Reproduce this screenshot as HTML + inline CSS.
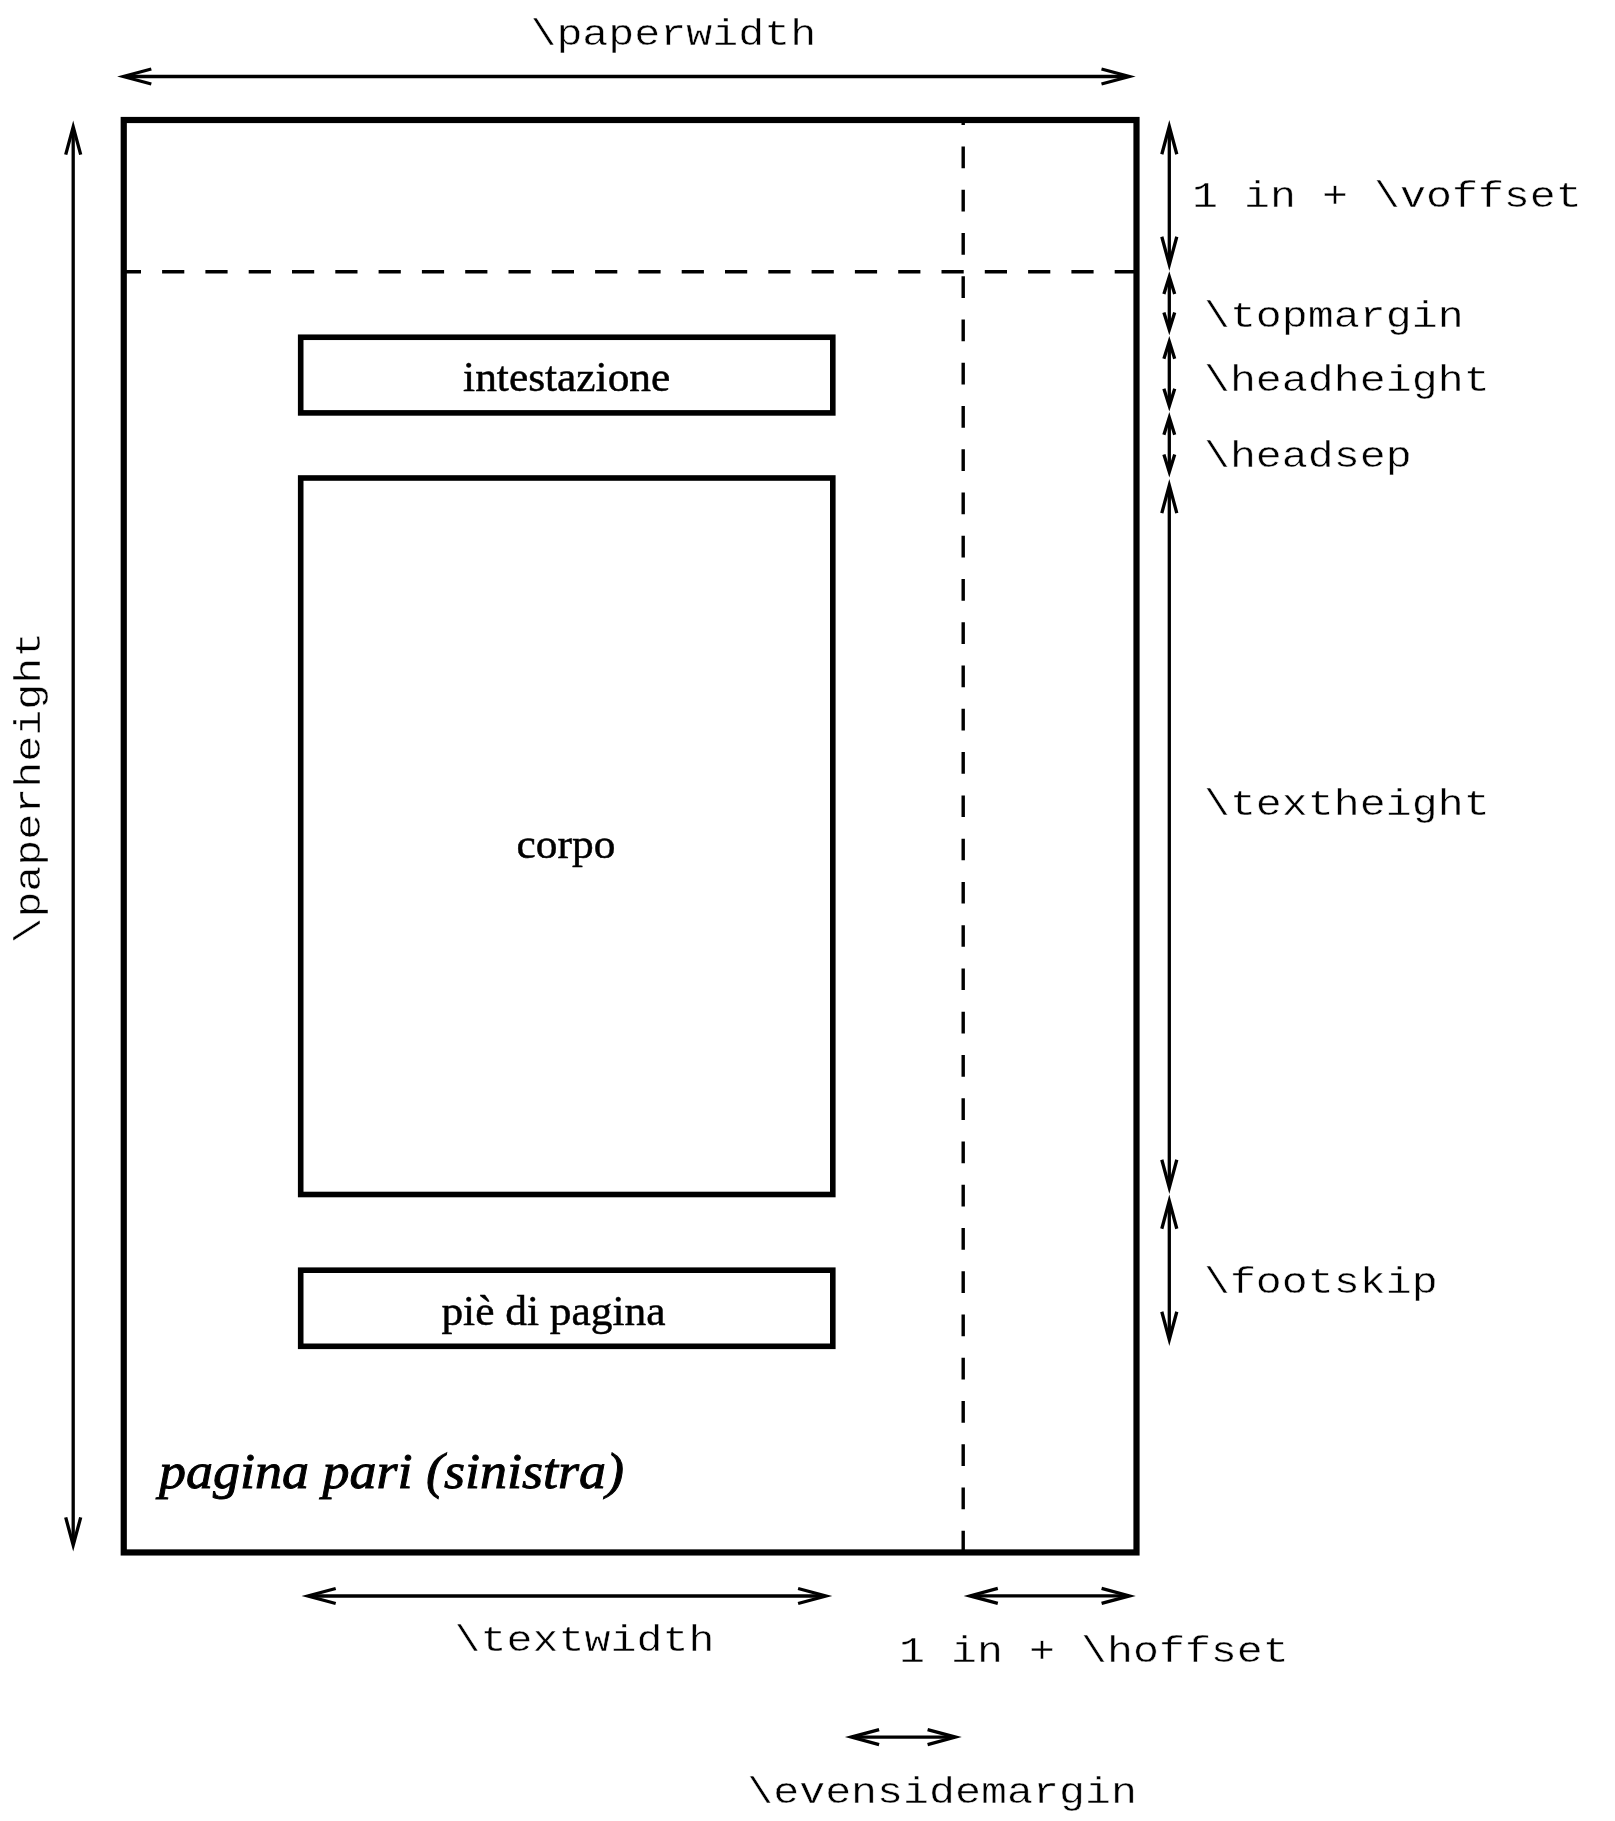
<!DOCTYPE html>
<html><head><meta charset="utf-8"><style>
html,body{margin:0;padding:0;background:#fff;width:1615px;height:1821px;overflow:hidden}
svg{display:block;will-change:transform}
.m{font-family:"Liberation Mono",monospace;font-size:43.3px;fill:#000;stroke:#fff;stroke-width:0.5px}
.s{font-family:"Liberation Serif",serif;font-size:43.4px;fill:#000;stroke:#000;stroke-width:0.5px}
.i{font-family:"Liberation Serif",serif;font-style:italic;font-size:54px;fill:#000;stroke:#000;stroke-width:1px}
</style></head><body>
<svg width="1615" height="1821" viewBox="0 0 1615 1821">
<rect width="1615" height="1821" fill="#fff"/>
<g fill="none" stroke="#000">
<rect x="123.75" y="120" width="1012.75" height="1432.45" stroke-width="6.2"/>
<rect x="300.7" y="337.25" width="532.1" height="75.65" stroke-width="5.6"/>
<rect x="300.7" y="478" width="532.1" height="716.5" stroke-width="5.6"/>
<rect x="300.7" y="1270.2" width="532.1" height="76.1" stroke-width="5.6"/>
<line x1="123.75" y1="271.8" x2="1136.5" y2="271.8" stroke-width="3.4" stroke-dasharray="22.2 21.1" stroke-dashoffset="4.95"/>
<line x1="963.2" y1="1552.5" x2="963.2" y2="120" stroke-width="3.4" stroke-dasharray="21.7 21.56"/>
</g>
<g fill="none" stroke="#000" stroke-width="3.3" stroke-linejoin="miter" stroke-miterlimit="20">
<line x1="127.1" y1="76.5" x2="1125.7" y2="76.5"/><polyline points="151.30,84.00 123.45,76.50 151.30,69.00"/><polyline points="1101.50,69.00 1129.35,76.50 1101.50,84.00"/><line x1="73.2" y1="130.4" x2="73.2" y2="1541.6"/><polyline points="65.70,154.60 73.20,126.75 80.70,154.60"/><polyline points="80.70,1517.40 73.20,1545.25 65.70,1517.40"/><line x1="1169.3" y1="130.1" x2="1169.3" y2="260.9"/><polyline points="1161.80,154.30 1169.30,126.45 1176.80,154.30"/><polyline points="1176.80,236.70 1169.30,264.55 1161.80,236.70"/><line x1="1169.3" y1="281.15" x2="1169.3" y2="325.3"/><polyline points="1163.90,293.95 1169.30,276.68 1174.70,293.95"/><polyline points="1174.70,312.50 1169.30,329.77 1163.90,312.50"/><line x1="1169.3" y1="346.06" x2="1169.3" y2="401.5"/><polyline points="1163.90,358.86 1169.30,341.59 1174.70,358.86"/><polyline points="1174.70,388.70 1169.30,405.97 1163.90,388.70"/><line x1="1169.3" y1="422.0" x2="1169.3" y2="467.4"/><polyline points="1163.90,434.80 1169.30,417.53 1174.70,434.80"/><polyline points="1174.70,454.60 1169.30,471.87 1163.90,454.60"/><line x1="1169.3" y1="488.9" x2="1169.3" y2="1184.0"/><polyline points="1161.80,513.10 1169.30,485.25 1176.80,513.10"/><polyline points="1176.80,1159.80 1169.30,1187.65 1161.80,1159.80"/><line x1="1169.3" y1="1204.5" x2="1169.3" y2="1335.9"/><polyline points="1161.80,1228.70 1169.30,1200.85 1176.80,1228.70"/><polyline points="1176.80,1311.70 1169.30,1339.55 1161.80,1311.70"/><line x1="311.5" y1="1596.0" x2="822.3" y2="1596.0"/><polyline points="335.70,1603.50 307.85,1596.00 335.70,1588.50"/><polyline points="798.10,1588.50 825.95,1596.00 798.10,1603.50"/><line x1="973.6" y1="1595.9" x2="1125.8" y2="1595.9"/><polyline points="997.80,1603.40 969.95,1595.90 997.80,1588.40"/><polyline points="1101.60,1588.40 1129.45,1595.90 1101.60,1603.40"/><line x1="854.9" y1="1737.1" x2="951.8" y2="1737.1"/><polyline points="879.10,1744.60 851.25,1737.10 879.10,1729.60"/><polyline points="927.60,1729.60 955.45,1737.10 927.60,1744.60"/>
</g>
<text transform="translate(530.40,44.90) scale(1,0.87)" class="m">\paperwidth</text><text transform="translate(1192.10,206.80) scale(1,0.87)" class="m">1 in + \voffset</text><text transform="translate(1203.90,326.60) scale(1,0.87)" class="m">\topmargin</text><text transform="translate(1203.90,391.30) scale(1,0.87)" class="m">\headheight</text><text transform="translate(1203.90,467.10) scale(1,0.87)" class="m">\headsep</text><text transform="translate(1203.90,815.10) scale(1,0.87)" class="m">\textheight</text><text transform="translate(1203.90,1293.40) scale(1,0.87)" class="m">\footskip</text><text transform="translate(454.60,1650.80) scale(1,0.87)" class="m">\textwidth</text><text transform="translate(899.10,1661.90) scale(1,0.87)" class="m">1 in + \hoffset</text><text transform="translate(747.20,1803.30) scale(1,0.87)" class="m">\evensidemargin</text><text transform="translate(40.2,943.6) rotate(-90) scale(1,0.87)" class="m">\paperheight</text><text transform="translate(463.1,391.2) scale(1,0.96)" class="s">intestazione</text><text transform="translate(516.6,857.9) scale(1,0.96)" class="s">corpo</text><text transform="translate(441.4,1324.8) scale(1,0.96)" class="s">piè di pagina</text><text transform="translate(159,1487.6) scale(1,0.92)" class="i">pagina pari (sinistra)</text>
</svg>
</body></html>
